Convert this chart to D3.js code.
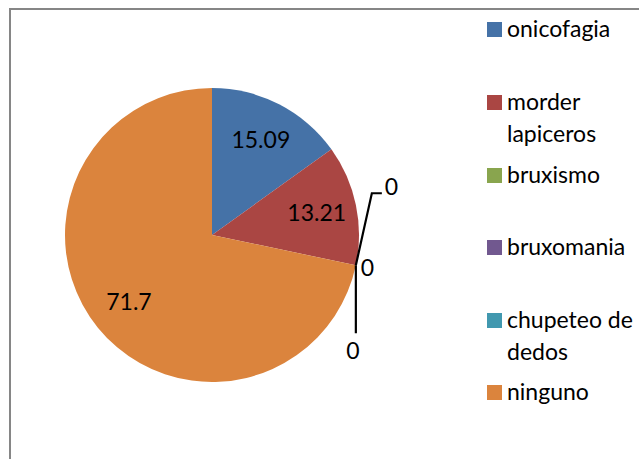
<!DOCTYPE html>
<html><head><meta charset="utf-8">
<script src="https://cdn.jsdelivr.net/npm/d3@7/dist/d3.min.js"></script>
<style>body{margin:0;background:#fff}svg{display:block}text{font-family:Lato,"Open Sans",sans-serif;fill:#000}</style>
</head><body>
<script>
const categories = ["onicofagia","morder lapiceros","bruxismo","bruxomania","chupeteo de dedos","ninguno"];
const legendLines = [["onicofagia"],["morder","lapiceros"],["bruxismo"],["bruxomania"],["chupeteo de","dedos"],["ninguno"]];
const values = [15.09, 13.21, 0, 0, 0, 71.7];
const labels = ["15.09","13.21","0","0","0","71.7"];
const colors = ["#4572A7","#AA4643","#89A54E","#71588F","#4198AF","#DB843D"];

const W=639,H=459;
const svg=d3.select("body").append("svg").attr("width",W).attr("height",H);
// frame
svg.append("path").attr("d",`M10,${H} L10,9 L${W},9`).attr("fill","none").attr("stroke","#868686").attr("stroke-width",2);

const cx=212, cy=235, R=147;
const g=svg.append("g").attr("transform",`translate(${cx},${cy})`);
const pie=d3.pie().sort(null).value(d=>d);
const arcs=pie(values);
const arc=d3.arc().innerRadius(0).outerRadius(R);
g.selectAll("path.s").data(arcs).enter().append("path").attr("class","s")
  .attr("d",arc).attr("fill",(d,i)=>colors[i]);

const fs=23;
const labArc=d3.arc().innerRadius(107).outerRadius(107);
arcs.forEach((d,i)=>{
  if(values[i]>0){
    const c=labArc.centroid(d);
    g.append("text").attr("x",c[0]).attr("y",c[1]+8).attr("text-anchor","middle").attr("font-size",fs).text(labels[i]);
  }
});
// zero labels with leader lines
const zero=arcs.filter(d=>d.value===0);
const a=zero[0].startAngle;
const px=R*Math.sin(a), py=-R*Math.cos(a);
const lw=2.2;
// top (bruxismo)
g.append("path").attr("d",`M${px},${py} L${px+16},${py-72} L${px+26},${py-72}`).attr("fill","none").attr("stroke","#000").attr("stroke-width",lw);
g.append("text").attr("x",px+35.5).attr("y",py-70).attr("text-anchor","middle").attr("font-size",fs).text(labels[2]);
// middle (bruxomania)
g.append("text").attr("x",px+11.5).attr("y",py+11).attr("text-anchor","middle").attr("font-size",fs).text(labels[3]);
// bottom (chupeteo)
g.append("path").attr("d",`M${px},${py} L${px},${py+68}`).attr("fill","none").attr("stroke","#000").attr("stroke-width",lw);
g.append("text").attr("x",px-3).attr("y",py+94).attr("text-anchor","middle").attr("font-size",fs).text(labels[4]);

// legend
const legY=[37,110,183,255,328,400];
const lg=svg.append("g");
legendLines.forEach((lines,i)=>{
  lg.append("rect").attr("x",487).attr("y",legY[i]-15).attr("width",15).attr("height",15).attr("fill",colors[i]);
  lines.forEach((t,j)=>{
    lg.append("text").attr("x",507).attr("y",legY[i]+j*32).attr("font-size",fs).text(t);
  });
});
</script>
</body></html>
